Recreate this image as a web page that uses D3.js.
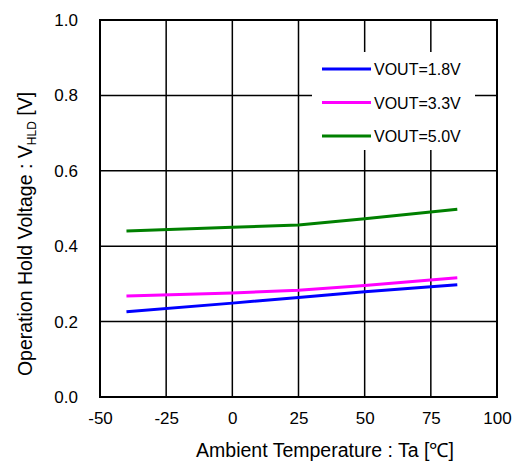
<!DOCTYPE html>
<html>
<head>
<meta charset="utf-8">
<script src="https://cdn.jsdelivr.net/npm/d3@7"></script>
<style>
  body { margin: 0; background: #fff; }
  text { font-family: "Liberation Sans", Arial, sans-serif; fill: #000; }
</style>
</head>
<body>
<script>
const xTicks = [-50, -25, 0, 25, 50, 75, 100];
const yTicks = [0.0, 0.2, 0.4, 0.6, 0.8, 1.0];
const seriesNames = ["VOUT=1.8V", "VOUT=3.3V", "VOUT=5.0V"];
const seriesColors = ["#0000ff", "#ff00ff", "#008000"];
const temps = [-40, 0, 25, 50, 85];
const vout18 = [0.226, 0.249, 0.264, 0.279, 0.298];
const vout33 = [0.268, 0.276, 0.283, 0.296, 0.316];
const vout50 = [0.440, 0.450, 0.456, 0.473, 0.498];
const seriesValues = [vout18, vout33, vout50];

const width = 522, height = 462;
const plotL = 100, plotR = 497, plotT = 20, plotB = 397;

const svg = d3.select("body").append("svg")
  .attr("width", width)
  .attr("height", height);

const x = d3.scaleLinear().domain([-50, 100]).range([plotL, plotR]);
const y = d3.scaleLinear().domain([0, 1]).range([plotB, plotT]);

// grid
svg.append("g")
  .selectAll("line")
  .data(xTicks)
  .join("line")
  .attr("x1", d => x(d)).attr("x2", d => x(d))
  .attr("y1", plotT).attr("y2", plotB)
  .attr("stroke", "#000").attr("stroke-width", 1.5);

svg.append("g")
  .selectAll("line")
  .data(yTicks)
  .join("line")
  .attr("x1", plotL).attr("x2", plotR)
  .attr("y1", d => y(d)).attr("y2", d => y(d))
  .attr("stroke", "#000").attr("stroke-width", 1.5);

svg.append("rect")
  .attr("x", plotL).attr("y", plotT)
  .attr("width", plotR - plotL).attr("height", plotB - plotT)
  .attr("fill", "none").attr("stroke", "#000").attr("stroke-width", 2);

// legend background
svg.append("rect")
  .attr("x", 312).attr("y", 52)
  .attr("width", 163).attr("height", 98)
  .attr("fill", "#fff");

// tick labels (plain hyphen for negatives, like the original)
const xAxis = d3.axisBottom(x).tickValues(xTicks).tickSize(0).tickPadding(15)
  .tickFormat(d => String(d));
svg.append("g")
  .attr("transform", `translate(0,${plotB})`)
  .call(xAxis)
  .call(g => g.select(".domain").remove())
  .selectAll("text")
  .style("font-size", "17px")
  .style("font-family", "'Liberation Sans', Arial, sans-serif");

const yAxis = d3.axisLeft(y).tickValues(yTicks).tickSize(0).tickPadding(22)
  .tickFormat(d => d.toFixed(1));
svg.append("g")
  .attr("transform", `translate(${plotL},0)`)
  .call(yAxis)
  .call(g => g.select(".domain").remove())
  .selectAll("text")
  .style("font-size", "17px")
  .style("font-family", "'Liberation Sans', Arial, sans-serif");

// lines
const line = d3.line()
  .x((d, i) => x(temps[i]))
  .y(d => y(d));

svg.append("g")
  .selectAll("path")
  .data(seriesValues)
  .join("path")
  .attr("d", line)
  .attr("fill", "none")
  .attr("stroke", (d, i) => seriesColors[i])
  .attr("stroke-width", 3);

// legend
const legend = svg.append("g");
seriesNames.forEach((name, i) => {
  const ly = 69 + i * 33.5;
  legend.append("line")
    .attr("x1", 322).attr("x2", 371)
    .attr("y1", ly).attr("y2", ly)
    .attr("stroke", seriesColors[i]).attr("stroke-width", 3);
  legend.append("text")
    .attr("x", 374).attr("y", ly + 6)
    .style("font-size", "16px")
    .text(name);
});

// axis titles
svg.append("text")
  .attr("x", 325)
  .attr("y", 457)
  .attr("text-anchor", "middle")
  .style("font-size", "19.5px")
  .text("Ambient Temperature : Ta [\u2103]");

const yt = svg.append("text")
  .attr("transform", "translate(32,234) rotate(-90)")
  .attr("text-anchor", "middle")
  .style("font-size", "19.5px");
yt.append("tspan").text("Operation Hold Voltage : V");
yt.append("tspan").attr("dy", 4).style("font-size", "12px").text("HLD");
yt.append("tspan").attr("dy", -4).text(" [V]");
</script>
</body>
</html>
